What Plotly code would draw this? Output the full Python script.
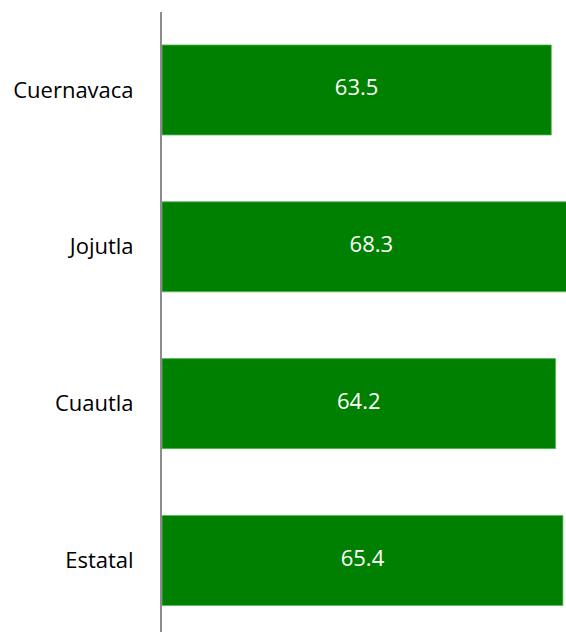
import plotly.graph_objects as go

categories = ["Cuernavaca", "Jojutla", "Cuautla", "Estatal"]
values = [63.5, 68.3, 64.2, 65.4]
labels = ["63.5", "68.3", "64.2", "65.4"]

fig = go.Figure()
fig.add_trace(go.Bar(
    y=categories, x=values, orientation="h",
    marker=dict(color="#008000", line=dict(color="#5cb85c", width=0.8)),
    width=0.574, hoverinfo="skip",
))
fig.add_trace(go.Scatter(
    y=categories, x=[v / 2 for v in values], mode="text",
    text=labels, textposition="middle center",
    textfont=dict(color="white", size=22, family="Open Sans"),
    hoverinfo="skip", cliponaxis=False,
))
fig.update_layout(
    width=566, height=632,
    margin=dict(l=162, r=0, t=12, b=0),
    plot_bgcolor="white", paper_bgcolor="white",
    showlegend=False,
    font=dict(family="Open Sans", size=22, color="black"),
    xaxis=dict(range=[0, 65.9], visible=False, showgrid=False, zeroline=False),
    yaxis=dict(
        categoryorder="array", categoryarray=categories,
        range=[3.456, -0.497],
        showline=True, linecolor="#8c8c8c", linewidth=2,
        showgrid=False, zeroline=False, ticks="",
        ticklabelstandoff=22, automargin=False,
        tickfont=dict(size=22, family="Open Sans", color="black"),
    ),
)
fig.write_html(
    "out.html",
    config={"displayModeBar": False, "staticPlot": True},
    post_script=(
        "document.documentElement.style.margin='0';"
        "document.documentElement.style.overflow='hidden';"
        "document.body.style.margin='0';"
        "document.body.style.overflow='hidden';"
    ),
)
